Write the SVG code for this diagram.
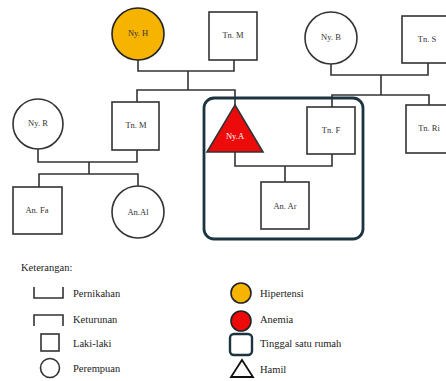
<svg xmlns="http://www.w3.org/2000/svg" width="446" height="381" viewBox="0 0 446 381">
<style>
.n{fill:#fff;stroke:#333;stroke-width:1.6}
.l{fill:none;stroke:#333;stroke-width:1.6}
.t{font-family:'Liberation Serif','Times New Roman',serif;font-size:8.5px;fill:#333;text-anchor:middle;dominant-baseline:middle}
.g{font-family:'Liberation Serif','Times New Roman',serif;font-size:10.5px;fill:#222}
</style>
<rect width="446" height="381" fill="#fff"/>
<g id="connectors" class="l">
<path d="M138 60V71H234V60"/>
<path d="M188 71V90"/>
<path d="M137 102V90H235V105"/>
<path d="M38 149V162H137V150"/>
<path d="M89 162V174"/>
<path d="M39 187V174H138V186"/>
<path d="M235 152V166H332V154"/>
<path d="M285 166V182"/>
<path d="M331 64V75H428V63"/>
<path d="M381 75V95"/>
<path d="M332 107V95H429V105"/>
</g>
<g id="house"><rect x="204" y="98" width="159" height="141" rx="10" fill="none" stroke="#1c3340" stroke-width="2.8"/></g>
<g id="nyH"><circle cx="138" cy="34" r="26" fill="#f6b400" stroke="#222" stroke-width="1.6"/><text class="t" x="138" y="34">Ny. H</text></g>
<g id="tnM1"><rect class="n" x="209" y="12" width="48" height="48"/><text class="t" x="233" y="36">Tn. M</text></g>
<g id="nyB"><circle class="n" cx="331" cy="38" r="26"/><text class="t" x="331" y="38">Ny. B</text></g>
<g id="tnS"><rect class="n" x="402" y="16" width="48" height="47"/><text class="t" x="427" y="40">Tn. S</text></g>
<g id="nyR"><circle class="n" cx="38" cy="124" r="25"/><text class="t" x="38" y="124">Ny. R</text></g>
<g id="tnM2"><rect class="n" x="112" y="102" width="47" height="48"/><text class="t" x="136" y="126">Tn. M</text></g>
<g id="nyA"><polygon points="235,105 263,152 207,152" fill="#ec0a0a" stroke="#333" stroke-width="1.6"/><text class="t" x="235" y="137" style="fill:#fff">Ny.A</text></g>
<g id="tnF"><rect class="n" x="307" y="107" width="48" height="47"/><text class="t" x="331" y="131">Tn. F</text></g>
<g id="tnRi"><rect class="n" x="406" y="105" width="48" height="48"/><text class="t" x="429" y="129">Tn. Ri</text></g>
<g id="anFa"><rect class="n" x="13" y="187" width="49" height="47"/><text class="t" x="37" y="211">An. Fa</text></g>
<g id="anAl"><circle class="n" cx="138" cy="212" r="26"/><text class="t" x="138" y="213">An.Al</text></g>
<g id="anAr"><rect class="n" x="261" y="182" width="48" height="47"/><text class="t" x="285" y="207">An. Ar</text></g>
<g id="legend">
<text class="g" x="21" y="271">Keterangan:</text>
<path class="l" d="M34 287V298H63V287"/>
<text class="g" x="73" y="297">Pernikahan</text>
<path class="l" d="M34 326V315H63V326"/>
<text class="g" x="73" y="323">Keturunan</text>
<rect class="n" x="41" y="334" width="18" height="17"/>
<text class="g" x="73" y="347">Laki-laki</text>
<circle class="n" cx="50" cy="368" r="9.5"/>
<text class="g" x="73" y="372">Perempuan</text>
<circle cx="241" cy="293" r="10" fill="#f6b400" stroke="#222" stroke-width="1.6"/>
<text class="g" x="260" y="297">Hipertensi</text>
<circle cx="241" cy="321" r="10" fill="#ec0a0a" stroke="#222" stroke-width="1.6"/>
<text class="g" x="260" y="323">Anemia</text>
<rect x="230" y="334" width="22" height="21" rx="4" fill="#fff" stroke="#1c3340" stroke-width="2.4"/>
<text class="g" x="260" y="347">Tinggal satu rumah</text>
<polygon points="242,360 253,377 231,377" fill="#fff" stroke="#111" stroke-width="1.8"/>
<text class="g" x="260" y="373">Hamil</text>
</g>
</svg>
